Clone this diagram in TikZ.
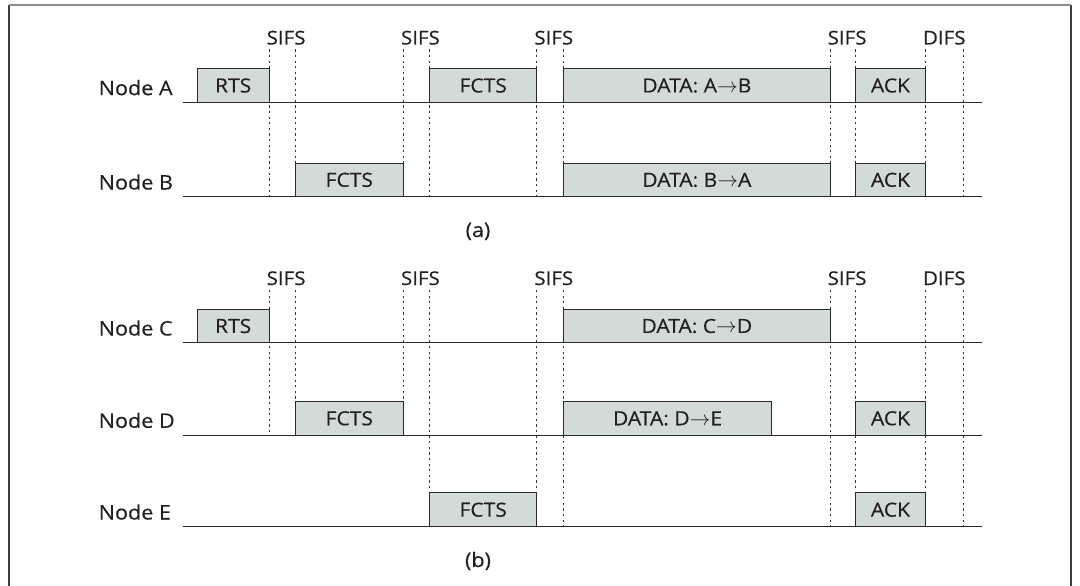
\documentclass[tikz,border=0pt]{standalone}
\usepackage{fontspec}
\setmainfont[FakeStretch=1.08,FakeBold=0.35]{Open Sans}
\definecolor{boxfill}{HTML}{D2DBD9}
\definecolor{boxline}{HTML}{2B2B2B}
\definecolor{txt}{HTML}{231F20}
\definecolor{tline}{HTML}{262626}
\definecolor{guidec}{HTML}{333333}
\definecolor{framec}{HTML}{3C3C3C}
\definecolor{frametop}{HTML}{8A8A8A}
\newcommand\pktbox[6]{%
  \pgfmathsetmacro\pktw{#3-#2}\pgfmathsetmacro\pkth{#5-#4}%
  \pgfmathsetmacro\pktx{(#2+#3)/2}\pgfmathsetmacro\pkty{(#4+#5)/2}%
  \node[pkt, minimum width=\pktw pt, minimum height=\pkth pt] (#1) at (\pktx,\pkty) {#6};}
\begin{document}
\begin{tikzpicture}[x=1pt,y=-1pt,
  rowlbl/.style={font=\fontsize{20}{23}\selectfont, text=txt, inner sep=0pt, text height=14.2pt, text depth=0pt, anchor=west},
  gaplbl/.style={font=\fontsize{19}{22}\selectfont, text=txt, inner sep=0pt, anchor=base west},
  caplbl/.style={font=\fontsize{20}{23}\selectfont, text=txt, inner sep=0pt, anchor=base},
  pkt/.style={draw=boxline, fill=boxfill, line width=0.9pt, inner sep=0pt,
    font=\fontsize{19.5}{22}\selectfont, text=txt, text height=13.9pt, text depth=0pt},
  tl/.style={draw=tline, line width=1.1pt},
  guide/.style={draw=guidec, line width=1pt, dash pattern=on 2.2pt off 3.4pt}]
\useasboundingbox (0,0) rectangle (1080,586);
% frame
\draw[framec, line width=1.3pt] (9,586.5) -- (9,5);
\draw[framec, line width=1.3pt] (1071,586.5) -- (1071,5);
\draw[frametop, line width=1.3pt] (9,5) -- (1071,5);

% ---------------- (a) ----------------
\foreach \x in {269,295.3,403.3,429.7,536.7,563.7,830,855.7,925.3,963}
  \draw[guide] (\x,49.5) -- (\x,196.7);
\foreach \x/\t [count=\i] in {269/SIFS,403.3/SIFS,536.7/SIFS,830/SIFS,925.3/DIFS}
  \node[gaplbl] (ga\i) at (\x-2.5,44.5) {\t};

\coordinate (a0) at (182.7,102.3); \coordinate (a1) at (981.7,102.3);
\coordinate (b0) at (182.7,196.7); \coordinate (b1) at (981.7,196.7);
\draw[tl] (a0) -- (a1);
\draw[tl] (b0) -- (b1);

\node[rowlbl] (nA) at (98.5,88) {Node A};
\node[rowlbl] (nB) at (98.5,182.4) {Node B};

\pktbox{aRTS}{197.3}{269}{68.7}{102.3}{RTS}
\pktbox{aFCTS}{429.7}{536.7}{68.7}{102.3}{FCTS}
\pktbox{aDATA}{563.7}{830}{68.7}{102.3}{DATA: A$\rightarrow$B}
\pktbox{aACK}{855.7}{925.3}{68.7}{102.3}{ACK}

\pktbox{bFCTS}{295.3}{403.3}{163}{196.7}{FCTS}
\pktbox{bDATA}{563.7}{830}{163}{196.7}{DATA: B$\rightarrow$A}
\pktbox{bACK}{855.7}{925.3}{163}{196.7}{ACK}

\node[caplbl] (capa) at (478,237) {(a)};

% ---------------- (b) ----------------
\foreach \x in {269,295.3,403.3}
  \draw[guide] (\x,290) -- (\x,435.3);
\foreach \x in {429.7,536.7,563.7,830,855.7,925.3,963}
  \draw[guide] (\x,290) -- (\x,526.7);
\foreach \x/\t [count=\i] in {269/SIFS,403.3/SIFS,536.7/SIFS,830/SIFS,925.3/DIFS}
  \node[gaplbl] (gb\i) at (\x-2.5,285) {\t};

\coordinate (c0) at (182.7,342.7); \coordinate (c1) at (981.7,342.7);
\coordinate (d0) at (182.7,435.3); \coordinate (d1) at (981.7,435.3);
\coordinate (e0) at (182.7,526.7); \coordinate (e1) at (981.7,526.7);
\draw[tl] (c0) -- (c1);
\draw[tl] (d0) -- (d1);
\draw[tl] (e0) -- (e1);

\node[rowlbl] (nC) at (98.5,328.4) {Node C};
\node[rowlbl] (nD) at (98.5,420.7) {Node D};
\node[rowlbl] (nE) at (98.5,512.4) {Node E};

\pktbox{cRTS}{197.3}{269}{309.3}{342.7}{RTS}
\pktbox{cDATA}{563.7}{830}{309.3}{342.7}{DATA: C$\rightarrow$D}

\pktbox{dFCTS}{295.3}{403.3}{401.3}{435.3}{FCTS}
\pktbox{dDATA}{563.7}{771.4}{401.3}{435.3}{DATA: D$\rightarrow$E}
\pktbox{dACK}{855.7}{925.3}{401.3}{435.3}{ACK}

\pktbox{eFCTS}{429.7}{536.7}{492.7}{526.7}{FCTS}
\pktbox{eACK}{855.7}{925.3}{492.7}{526.7}{ACK}

\node[caplbl] (capb) at (478,567) {(b)};
\end{tikzpicture}
\end{document}
